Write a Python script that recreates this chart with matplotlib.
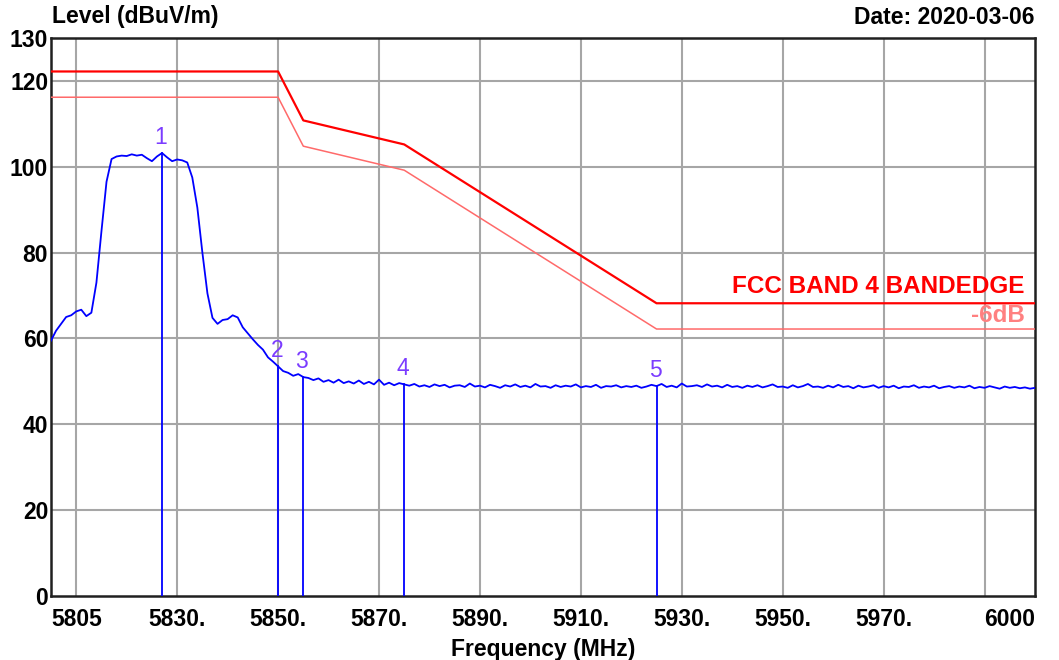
import numpy as np
import matplotlib
matplotlib.use("Agg")
import matplotlib.pyplot as plt

plt.rcParams['font.family'] = ['Liberation Sans', 'DejaVu Sans']

# ---- data ----
trace_start = 5805
trace_levels = [
    59.5, 61.8, 63.4, 65.0, 65.4, 66.3, 66.7, 65.2, 66.0, 73.0,      # 5805-5814
    85.0, 96.5, 101.8, 102.4, 102.6, 102.5, 102.9, 102.6, 102.8, 102.0,  # 5815-5824
    101.3, 102.4, 103.2, 102.2, 101.3, 101.7, 101.5, 101.0, 97.5, 90.5,  # 5825-5834
    80.0, 70.5, 64.8, 63.4, 64.3, 64.5, 65.4, 64.9, 62.6, 61.2,      # 5835-5844
    59.8, 58.5, 57.4, 55.6, 54.6, 53.5, 52.4, 52.0, 51.3, 51.7,      # 5845-5854
    51.0, 50.8, 50.3, 50.7, 49.9, 50.3, 49.7, 50.4, 49.6, 50.0,      # 5855-5864
    49.5, 50.2, 49.4, 49.9, 49.3, 50.4, 49.2, 49.7, 49.1, 49.6,      # 5865-5874
    49.3,                                                            # 5875
    49.0, 49.4, 48.8, 49.1, 48.7, 49.3, 48.9, 49.2, 48.6, 49.0,      # 5876-5885
    49.1, 48.7, 49.5, 48.8, 49.0, 48.6, 49.2, 48.9, 48.5, 49.1,      # 5886-5895
    48.8, 49.3, 48.7, 49.0, 48.6, 49.4, 48.8, 48.9, 48.5, 49.1,      # 5896-5905
    48.7, 49.0, 48.8, 49.3, 48.6, 48.9, 48.7, 49.2, 48.5, 48.9,      # 5906-5915
    48.8, 49.1, 48.6, 48.9, 48.7, 49.0, 48.5, 48.8, 49.2, 48.9,      # 5916-5925
    49.4, 48.7, 49.0, 48.6, 49.5, 48.8, 48.9, 49.1, 48.7, 49.3,      # 5926-5935
    48.8, 49.0, 48.6, 49.2, 48.7, 48.9, 48.5, 49.0, 48.7, 49.1,      # 5936-5945
    48.6, 48.9, 49.3, 48.7, 48.8, 48.5, 49.1, 48.6, 48.9, 49.4,      # 5946-5955
    48.7, 48.8, 48.5, 49.0, 48.6, 49.2, 48.7, 48.9, 48.4, 49.0,      # 5956-5965
    48.6, 48.8, 49.1, 48.5, 48.9, 48.6, 49.0, 48.4, 48.8, 48.7,      # 5966-5975
    49.1, 48.5, 48.8, 48.6, 49.0, 48.4, 48.7, 48.9, 48.5, 48.8,      # 5976-5985
    48.6, 49.0, 48.4, 48.7, 48.5, 48.9, 48.6, 48.3, 48.8, 48.5,      # 5986-5995
    48.7, 48.4, 48.6, 48.3, 48.5,                                    # 5996-6000
]
trace_freq = np.arange(trace_start, trace_start + len(trace_levels), 1.0)

limit_freq = [5805, 5850, 5855, 5875, 5925, 6000]
limit_level = [122.2, 122.2, 110.8, 105.2, 68.2, 68.2]
margin_db = 6.0

marker_ids = ["1", "2", "3", "4", "5"]
marker_freq = [5827, 5850, 5855, 5875, 5925]
marker_level = [103.2, 53.5, 51.0, 49.3, 48.9]

xtick_vals = [5805, 5830, 5850, 5870, 5890, 5910, 5930, 5950, 5970, 6000]
xtick_labels = ["5805", "5830.", "5850.", "5870.", "5890.", "5910.", "5930.", "5950.", "5970.", "6000"]
xgrid_vals = [5810, 5830, 5850, 5870, 5890, 5910, 5930, 5950, 5970, 5990]
ytick_vals = [0, 20, 40, 60, 80, 100, 120, 130]
ygrid_vals = [20, 40, 60, 80, 100, 120]

FS = 16.5

# ---- figure ----
fig = plt.figure(figsize=(10.59, 6.60), dpi=100)
ax = fig.add_axes([51/1059, 1-596/660, (1035-51)/1059, (596-38)/660])
ax.set_xlim(5805, 6000)
ax.set_ylim(0, 130)

for gx in xgrid_vals:
    ax.axvline(gx, color='#a6a6a6', lw=1.5, zorder=1)
for gy in ygrid_vals:
    ax.axhline(gy, color='#a6a6a6', lw=1.5, zorder=1)

ax.plot(limit_freq, limit_level, color='#ff0000', lw=1.6, zorder=3)
ax.plot(limit_freq, [v - margin_db for v in limit_level], color='#ff6a6a', lw=1.1, zorder=3)

ax.plot(trace_freq, trace_levels, color='#0000ff', lw=1.3, zorder=4)

for mid, mf, ml in zip(marker_ids, marker_freq, marker_level):
    ax.plot([mf, mf], [0, ml], color='#0000ff', lw=1.3, zorder=4)
    ax.annotate(mid, (mf, ml), xytext=(-1, 3), textcoords='offset points',
                ha='center', va='bottom', fontsize=16.5, color='#7b3cff', zorder=5)

ax.text(5998, 69.4, "FCC BAND 4 BANDEDGE", color='#ff0000', fontsize=17.5,
        fontweight='bold', ha='right', va='bottom', zorder=5)
ax.text(5998, 62.6, "-6dB", color='#ff8080', fontsize=17.5,
        fontweight='bold', ha='right', va='bottom', zorder=5)

ax.set_xticks(xtick_vals)
ax.set_xticklabels(xtick_labels, fontsize=FS, fontweight='bold')
tl = ax.get_xticklabels()
tl[0].set_ha('left')
tl[-1].set_ha('right')
ax.set_yticks(ytick_vals)
ax.set_yticklabels([str(v) for v in ytick_vals], fontsize=FS, fontweight='bold')
ax.tick_params(axis='both', length=0)
ax.tick_params(axis='x', pad=9)
ax.tick_params(axis='y', pad=2)

for s in ax.spines.values():
    s.set_color('#202020')
    s.set_linewidth(1.8)

ax.set_xlabel("Frequency (MHz)", fontsize=FS, fontweight='bold', labelpad=5)
fig.text(52/1059, 1-17/660, "Level (dBuV/m)", fontsize=FS, fontweight='bold',
         ha='left', va='center')
fig.text(1035/1059, 1-17/660, "Date: 2020-03-06", fontsize=FS, fontweight='bold',
         ha='right', va='center')

fig.savefig("out.png", dpi=100)
